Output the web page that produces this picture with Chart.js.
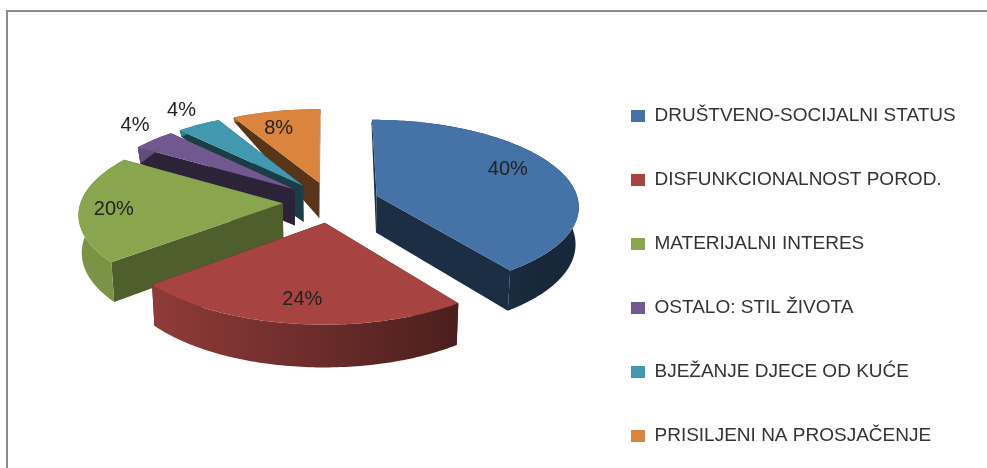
<!DOCTYPE html>
<html>
<head>
<meta charset="utf-8">
<script src="https://cdn.jsdelivr.net/npm/chart.js@4"></script>
<style>
  html, body { margin: 0; padding: 0; background: #fff; }
  #wrap { position: relative; width: 987px; height: 468px; overflow: hidden; }
  #frame { position: absolute; left: 6px; top: 10px; width: 990px; height: 470px; border-left: 2px solid #8c8c8c; border-top: 2px solid #8c8c8c; box-sizing: border-box; }
  canvas { position: absolute; left: 0; top: 0; }
</style>
</head>
<body>
<div id="wrap">
  <div id="frame"></div>
  <canvas id="pie3d" width="987" height="468"></canvas>
</div>
<script>
const categories = [
  'DRUŠTVENO-SOCIJALNI STATUS',
  'DISFUNKCIONALNOST POROD.',
  'MATERIJALNI INTERES',
  'OSTALO: STIL ŽIVOTA',
  'BJEŽANJE DJECE OD KUĆE',
  'PRISILJENI NA PROSJAČENJE'
];
const percentages = [40, 24, 20, 4, 4, 8];
const sliceColors = ['#4572A7', '#A74442', '#89A54E', '#71588F', '#4298AF', '#DB843D'];

// look of the tilted pie
const view = { x: 331, y: 202, scaleX: 202, scaleY: 85.6, persp: 0.11, depth: 37, taper: 0.987 };
const paintOrder = [5, 4, 3, 2, 0, 1];
const cutShade = [0.4, 0.4, 0.57, 0.4, 0.4, 0.4];
const labelRadius = [0.7, 0.77, 0.83, 1.15, 1.2, 0.76];
const labelNudgeX = [2, 0, 0, 1, 2, -7];
const labelNudgeY = [-8, 1, 2, -7, -3, 1];
const legendSpot = { left: 586, shiftY: 42 };

function project(u, v) {
  const w = 1 - view.persp * v;
  return { x: view.x + u * view.scaleX / w, y: view.y + v * view.scaleY / w, w: w, v: v };
}
// the far side of the reference pie gets thinner quickly, not just by perspective
function lower(p) {
  let d = view.depth / p.w;
  if (p.v < -0.2) d = Math.max(5, view.depth - (-0.2 - p.v) * 42);
  return { x: view.x + (p.x - view.x) * view.taper, y: p.y + d };
}
function shadeColor(hex, f) {
  const n = parseInt(hex.slice(1), 16);
  return 'rgb(' + Math.round((n >> 16) * f) + ',' + Math.round(((n >> 8) & 255) * f) + ',' + Math.round((n & 255) * f) + ')';
}
function fillPath(ctx, pts, style) {
  ctx.fillStyle = style;
  ctx.beginPath();
  pts.forEach(function (p, i) {
    if (i === 0) ctx.moveTo(p.x, p.y);
    else ctx.lineTo(p.x, p.y);
  });
  ctx.closePath();
  ctx.fill();
}
// apex and rim of a slice, in units of the pie radius, from the arc the library laid out
function sliceGeometry(arc) {
  const mid = (arc.startAngle + arc.endAngle) / 2;
  const e = arc.options.offset / arc.outerRadius;
  const ox = Math.cos(mid) * e, oy = Math.sin(mid) * e;
  const rim = [];
  const steps = Math.max(2, Math.ceil((arc.endAngle - arc.startAngle) * 180 / Math.PI));
  for (let i = 0; i <= steps; i++) {
    const a = arc.startAngle + (arc.endAngle - arc.startAngle) * i / steps;
    rim.push(project(ox + Math.cos(a), oy + Math.sin(a)));
  }
  return { mid: mid, ox: ox, oy: oy, apex: project(ox, oy), rim: rim };
}

const pie3dPlugin = {
  id: 'pie3d',
  afterLayout(chart) {
    // the legend rows sit lower and further right than the layout would put them
    const legend = chart.legend;
    legend.left = legendSpot.left;
    legend.width = legend.right - legend.left;
    legend.top += legendSpot.shiftY;
    legend.bottom += legendSpot.shiftY;
  },
  beforeDatasetDraw(chart) {
    const ctx = chart.ctx;
    const arcs = chart.getDatasetMeta(0).data;
    paintOrder.forEach(function (i) {
      const g = sliceGeometry(arcs[i]);
      const color = sliceColors[i];
      const first = g.rim[0], last = g.rim[g.rim.length - 1];
      const cut = shadeColor(color, cutShade[i]);
      fillPath(ctx, [g.apex, first, lower(first), lower(g.apex)], cut);
      fillPath(ctx, [g.apex, last, lower(last), lower(g.apex)], cut);
      const grad = ctx.createLinearGradient(view.x - view.scaleX, 0, view.x + view.scaleX, 0);
      grad.addColorStop(0, shadeColor(color, 0.89));
      grad.addColorStop(1, shadeColor(color, 0.35));
      fillPath(ctx, g.rim.concat(g.rim.map(lower).reverse()), grad);
      fillPath(ctx, [g.apex].concat(g.rim), color);
    });
    return false;
  },
  afterDatasetsDraw(chart) {
    const ctx = chart.ctx;
    const arcs = chart.getDatasetMeta(0).data;
    ctx.save();
    ctx.font = '20px "Liberation Sans"';
    ctx.fillStyle = '#222';
    ctx.textAlign = 'center';
    ctx.textBaseline = 'middle';
    arcs.forEach(function (arc, i) {
      const g = sliceGeometry(arc);
      const p = project(g.ox + Math.cos(g.mid) * labelRadius[i], g.oy + Math.sin(g.mid) * labelRadius[i]);
      ctx.fillText(percentages[i] + '%', p.x + labelNudgeX[i], p.y + labelNudgeY[i]);
    });
    ctx.restore();
  }
};

new Chart(document.getElementById('pie3d').getContext('2d'), {
  type: 'pie',
  data: {
    labels: categories,
    datasets: [{
      data: percentages,
      backgroundColor: sliceColors,
      borderWidth: 0,
      offset: 50
    }]
  },
  options: {
    responsive: false,
    animation: false,
    plugins: {
      tooltip: { enabled: false },
      legend: {
        position: 'right',
        labels: {
          color: '#333',
          font: { family: '"Liberation Sans"', size: 19 },
          boxWidth: 14,
          boxHeight: 12,
          padding: 45
        }
      }
    }
  },
  plugins: [pie3dPlugin]
});
</script>
</body>
</html>
